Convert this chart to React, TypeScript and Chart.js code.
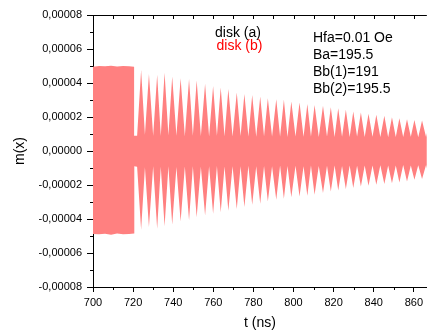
import { useEffect, useRef } from "react";
import { Chart, registerables } from "chart.js";

Chart.register(...registerables);

const FONT = '"Liberation Sans", Arial, sans-serif';

const SERIES_A = "disk (a)";
const SERIES_B = "disk (b)";
const NOTES = ["Hfa=0.01 Oe", "Ba=195.5", "Bb(1)=191", "Bb(2)=195.5"];
const X_TITLE = "t (ns)";
const Y_TITLE = "m(x)";

const X_TICKS = [700, 720, 740, 760, 780, 800, 820, 840, 860];
const Y_TICKS = [-0.00008, -0.00006, -0.00004, -0.00002, 0, 0.00002, 0.00004, 0.00006, 0.00008];

// Driven interval: envelope of the fast oscillation up to ~720.5 ns
const blockTimes = [700, 703, 706, 709, 712, 715, 718, 720.5, 720.6];
const blockUpper = [4.95e-5, 5.0e-5, 4.98e-5, 5.02e-5, 4.97e-5, 5.0e-5, 4.98e-5, 4.96e-5, 0.9e-5];
const blockLower = [-4.88e-5, -4.9e-5, -4.87e-5, -4.92e-5, -4.86e-5, -4.9e-5, -4.88e-5, -4.86e-5, -0.9e-5];

// Free ringing: beat maxima of the envelope
const peakTimes = [
  724.0, 727.9, 732.0, 735.7, 739.5, 743.7, 747.9, 751.7, 755.9, 759.9,
  763.7, 767.5, 771.7, 775.5, 779.4, 783.4, 787.2, 791.4, 795.2, 798.9,
  803.0, 806.9, 810.5, 814.7, 818.6, 822.3, 826.1, 829.8, 833.6, 837.4,
  841.3, 845.3, 849.1, 852.8, 856.6, 860.3, 864.1, 868.0,
];
const peakUpper = [
  4.77e-5, 4.53e-5, 4.48e-5, 4.61e-5, 4.38e-5, 4.28e-5, 4.24e-5, 4.14e-5, 3.95e-5, 3.83e-5,
  3.73e-5, 3.64e-5, 3.44e-5, 3.36e-5, 3.3e-5, 3.2e-5, 3.11e-5, 3.05e-5, 3.01e-5, 2.91e-5,
  2.85e-5, 2.77e-5, 2.71e-5, 2.66e-5, 2.58e-5, 2.52e-5, 2.42e-5, 2.32e-5, 2.26e-5, 2.19e-5,
  2.13e-5, 2.07e-5, 1.99e-5, 1.93e-5, 1.87e-5, 1.83e-5, 1.8e-5, 1.78e-5,
];
const peakLower = [
  -4.63e-5, -4.47e-5, -4.57e-5, -4.43e-5, -4.34e-5, -4.14e-5, -4.08e-5, -3.9e-5, -3.79e-5, -3.69e-5,
  -3.61e-5, -3.51e-5, -3.41e-5, -3.3e-5, -3.16e-5, -3.1e-5, -2.97e-5, -2.87e-5, -2.81e-5, -2.72e-5,
  -2.67e-5, -2.63e-5, -2.57e-5, -2.47e-5, -2.38e-5, -2.32e-5, -2.24e-5, -2.18e-5, -2.09e-5, -2.04e-5,
  -1.99e-5, -1.94e-5, -1.89e-5, -1.85e-5, -1.79e-5, -1.69e-5, -1.65e-5, -1.62e-5,
];

// Beat minima, one before each maximum
const valleyTimes = [
  722.0, 725.9, 730.0, 733.8, 737.6, 741.6, 745.8, 749.8, 753.8, 757.9,
  761.8, 765.6, 769.6, 773.6, 777.5, 781.4, 785.3, 789.3, 793.3, 797.0,
  801.0, 805.0, 808.7, 812.6, 816.7, 820.5, 824.2, 828.0, 831.7, 835.5,
  839.4, 843.3, 847.2, 851.0, 854.7, 858.5, 862.2, 866.1,
];
const valleyUpper = [
  0.9e-5, 0.95e-5, 0.9e-5, 0.88e-5, 0.92e-5, 0.9e-5, 0.87e-5, 0.9e-5, 0.88e-5, 0.86e-5,
  0.89e-5, 0.87e-5, 0.85e-5, 0.88e-5, 0.86e-5, 0.84e-5, 0.87e-5, 0.85e-5, 0.86e-5, 0.83e-5,
  0.85e-5, 0.84e-5, 0.86e-5, 0.83e-5, 0.85e-5, 0.82e-5, 0.84e-5, 0.83e-5, 0.85e-5, 0.82e-5,
  0.84e-5, 0.83e-5, 0.81e-5, 0.83e-5, 0.82e-5, 0.84e-5, 0.81e-5, 0.82e-5,
];
const valleyLower = [
  -0.92e-5, -0.95e-5, -0.9e-5, -0.93e-5, -0.9e-5, -0.94e-5, -0.91e-5, -0.89e-5, -0.92e-5, -0.9e-5,
  -0.88e-5, -0.91e-5, -0.89e-5, -0.9e-5, -0.87e-5, -0.89e-5, -0.88e-5, -0.9e-5, -0.86e-5, -0.88e-5,
  -0.87e-5, -0.89e-5, -0.86e-5, -0.88e-5, -0.87e-5, -0.85e-5, -0.88e-5, -0.86e-5, -0.87e-5, -0.85e-5,
  -0.86e-5, -0.84e-5, -0.86e-5, -0.85e-5, -0.83e-5, -0.85e-5, -0.84e-5, -0.83e-5,
];

function envelope(block: number[], valleys: number[], peaks: number[]) {
  const pts: { x: number; y: number }[] = [];
  blockTimes.forEach((t, i) => pts.push({ x: t, y: block[i] }));
  peakTimes.forEach((t, i) => {
    pts.push({ x: valleyTimes[i], y: valleys[i] });
    pts.push({ x: t, y: peaks[i] });
  });
  return pts;
}

function fmtY(v: number) {
  const val = Math.abs(v) < 1e-12 ? 0 : v;
  return val.toFixed(5).replace(".", ",");
}

const axisDecor = {
  id: "axisDecor",
  afterDraw(chart: any) {
    const { ctx, chartArea: a } = chart;
    const xs = chart.scales.x;
    const ys = chart.scales.y;
    ctx.save();
    ctx.strokeStyle = "#000";
    ctx.lineWidth = 1;
    ctx.beginPath();
    // top frame line
    ctx.moveTo(a.left, Math.round(a.top) + 0.5);
    ctx.lineTo(a.right, Math.round(a.top) + 0.5);
    // minor ticks on the bottom axis, inner ticks on the top frame
    for (let t = 700; t <= xs.max; t += 10) {
      const px = Math.round(xs.getPixelForValue(t)) + 0.5;
      if (t % 20 !== 0) {
        ctx.moveTo(px, a.bottom);
        ctx.lineTo(px, a.bottom + 3);
      }
      ctx.moveTo(px, a.top);
      ctx.lineTo(px, a.top + 4);
    }
    // minor ticks on the left axis
    for (let k = -7; k <= 7; k += 2) {
      const py = Math.round(ys.getPixelForValue(k * 1e-5)) + 0.5;
      ctx.moveTo(a.left - 3, py);
      ctx.lineTo(a.left, py);
    }
    ctx.stroke();

    ctx.font = `14px ${FONT}`;
    ctx.textBaseline = "middle";
    ctx.textAlign = "left";
    ctx.fillStyle = "#000";
    ctx.fillText(SERIES_A, 215, 33);
    ctx.fillStyle = "#ff0000";
    ctx.fillText(SERIES_B, 216.5, 46.5);
    ctx.fillStyle = "#000";
    NOTES.forEach((s, i) => ctx.fillText(s, 313, 38 + i * 17.2));
    ctx.restore();
  },
};

export default function App() {
  const ref = useRef<HTMLCanvasElement | null>(null);

  useEffect(() => {
    document.body.style.margin = "0";
    const canvas = ref.current;
    if (!canvas) return;
    const fill = "#ff8080";
    const chart = new Chart(canvas, {
      type: "line",
      data: {
        datasets: [
          {
            label: SERIES_B,
            data: envelope(blockUpper, valleyUpper, peakUpper),
            borderWidth: 0,
            borderColor: "rgba(0,0,0,0)",
            backgroundColor: fill,
            pointRadius: 0,
            fill: false,
          },
          {
            label: SERIES_B,
            data: envelope(blockLower, valleyLower, peakLower),
            borderWidth: 0,
            borderColor: "rgba(0,0,0,0)",
            backgroundColor: fill,
            pointRadius: 0,
            fill: "-1",
          },
        ],
      },
      options: {
        animation: false,
        responsive: false,
        events: [],
        layout: { padding: { top: 15, right: 0, bottom: 0, left: 0 } },
        plugins: { legend: { display: false }, tooltip: { enabled: false } },
        scales: {
          x: {
            type: "linear",
            min: 700,
            max: 866.5,
            afterBuildTicks: (s: any) => {
              s.ticks = X_TICKS.map((v) => ({ value: v }));
            },
            afterFit: (s: any) => {
              s.height = 46;
            },
            ticks: {
              autoSkip: false,
              maxRotation: 0,
              padding: 4,
              color: "#000",
              font: { family: FONT, size: 11 },
              callback: (v: any) => String(v),
            },
            grid: { drawOnChartArea: false, tickLength: 5, color: "#000", tickColor: "#000" },
            border: { display: true, color: "#000", width: 1 },
            title: {
              display: true,
              text: X_TITLE,
              color: "#000",
              font: { family: FONT, size: 14 },
              padding: { top: 0, bottom: 1 },
            },
          },
          y: {
            type: "linear",
            min: -0.00008,
            max: 0.00008,
            afterBuildTicks: (s: any) => {
              s.ticks = Y_TICKS.map((v) => ({ value: v }));
            },
            afterFit: (s: any) => {
              s.width = 93;
            },
            ticks: {
              padding: 5,
              color: "#000",
              font: { family: FONT, size: 11 },
              callback: (v: any) => fmtY(Number(v)),
            },
            grid: { drawOnChartArea: false, tickLength: 6, color: "#000", tickColor: "#000" },
            border: { display: true, color: "#000", width: 1 },
            title: {
              display: true,
              text: Y_TITLE,
              color: "#000",
              font: { family: FONT, size: 14 },
              padding: { top: 12, bottom: 0 },
            },
          },
        },
      },
      plugins: [axisDecor],
    });
    return () => chart.destroy();
  }, []);

  return <canvas ref={ref} width={427} height={333} style={{ display: "block" }} />;
}
